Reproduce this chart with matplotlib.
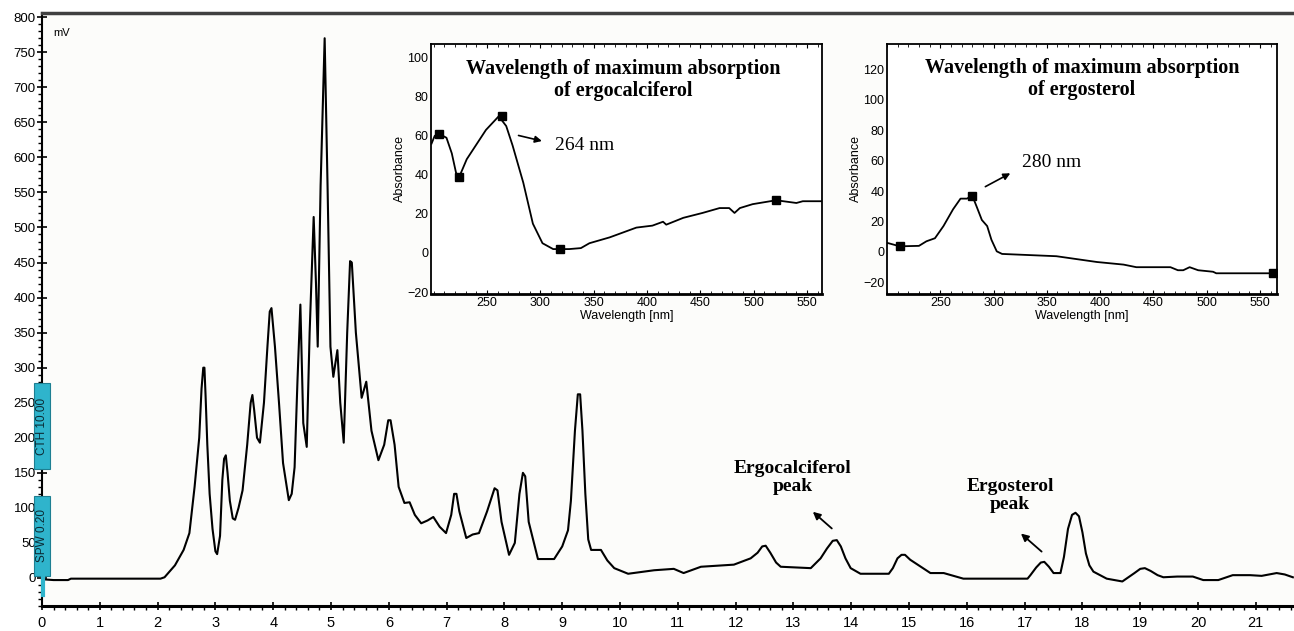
import matplotlib
matplotlib.use("Agg")
import matplotlib.pyplot as plt
from matplotlib.ticker import MultipleLocator
from matplotlib.patches import Rectangle

# ---------------- data ----------------
time_min = [0.00, 0.03, 0.20, 0.45, 0.50, 1.00, 1.50, 2.05, 2.12, 2.30, 2.45, 2.55, 2.64, 2.72,
            2.76, 2.79, 2.81, 2.83, 2.86, 2.90, 2.95, 3.00, 3.03, 3.08, 3.12, 3.15, 3.18, 3.21,
            3.25, 3.30, 3.34, 3.40, 3.47, 3.55, 3.61, 3.64, 3.67, 3.72, 3.77, 3.84, 3.90, 3.94,
            3.97, 4.03, 4.10, 4.17, 4.27, 4.32, 4.37, 4.42, 4.47, 4.52, 4.58, 4.63, 4.70, 4.74,
            4.77, 4.82, 4.89, 4.94, 4.99, 5.04, 5.11, 5.16, 5.22, 5.28, 5.33, 5.36, 5.43, 5.53,
            5.61, 5.70, 5.82, 5.92, 5.99, 6.03, 6.10, 6.17, 6.27, 6.36, 6.45, 6.56, 6.67, 6.77,
            6.88, 6.99, 7.08, 7.13, 7.17, 7.22, 7.34, 7.45, 7.56, 7.70, 7.83, 7.88, 7.95, 8.08,
            8.18, 8.26, 8.32, 8.36, 8.42, 8.58, 8.86, 9.00, 9.10, 9.15, 9.22, 9.27, 9.31, 9.35,
            9.40, 9.45, 9.50, 9.67, 9.78, 9.90, 10.14, 10.59, 10.93, 11.10, 11.40, 11.97, 12.26,
            12.38, 12.46, 12.52, 12.60, 12.70, 12.78, 13.30, 13.47, 13.58, 13.68, 13.75, 13.82,
            13.90, 13.99, 14.16, 14.65, 14.72, 14.80, 14.87, 14.93, 15.02, 15.15, 15.37, 15.60,
            15.94, 17.05, 17.10, 17.20, 17.28, 17.34, 17.42, 17.50, 17.62, 17.68, 17.75, 17.82,
            17.88, 17.94, 18.00, 18.06, 18.12, 18.19, 18.42, 18.69, 18.90, 19.00, 19.08, 19.18,
            19.30, 19.40, 19.64, 19.91, 20.09, 20.35, 20.60, 20.90, 21.10, 21.36, 21.50, 21.64]
signal_mv = [2, -2, -3, -3, -1, -1, -1, -1, 1, 18, 40, 64, 130, 200,
             270, 300, 300, 260, 190, 120, 70, 38, 34, 60, 140, 170, 175, 150,
             110, 85, 83, 100, 125, 190, 250, 261, 240, 200, 193, 250, 330, 380,
             385, 330, 250, 164, 111, 120, 158, 282, 390, 221, 187, 350, 515, 420,
             330, 560, 770, 560, 330, 287, 325, 250, 193, 350, 452, 450, 350, 257,
             280, 210, 168, 190, 225, 225, 190, 130, 107, 108, 90, 78, 82, 87,
             73, 64, 90, 120, 120, 95, 57, 62, 64, 95, 128, 125, 80, 33,
             50, 120, 150, 145, 80, 27, 27, 45, 68, 110, 210, 262, 262, 210,
             120, 55, 40, 40, 25, 14, 6, 11, 13, 7, 16, 19, 28,
             36, 45, 46, 36, 22, 16, 14, 28, 42, 53, 54, 45,
             28, 14, 6, 6, 14, 28, 33, 33, 26, 19, 7, 7,
             -1, -1, 4, 15, 22, 23, 16, 7, 7, 30, 70, 90,
             93, 88, 65, 35, 18, 9, -1, -5, 7, 13, 14, 10,
             4, 1, 2, 2, -3, -3, 4, 4, 3, 7, 5, 1]

ergocal_nm = [198, 201, 205, 212, 217, 221, 224, 231, 237, 249, 261, 268, 274, 284, 293, 302,
              312, 327, 338, 346, 365, 390, 405, 415, 418, 434, 452, 468, 477, 482, 487, 499,
              521, 540, 546, 564]
ergocal_abs = [56, 60, 61, 59, 51, 41, 39, 48, 53, 63, 70, 65, 55, 36, 15, 5,
               2, 2, 2.5, 5, 8, 13, 14, 16, 14.5, 18, 20.5, 23, 23, 20.5, 23, 25,
               27, 25.6, 26.5, 26.5]
ergocal_mark_nm = [205, 224, 264, 318, 521]
ergocal_mark_abs = [61, 39, 70, 2, 27]

ergost_nm = [200, 212, 230, 237, 245, 253, 262, 269, 275, 280, 284, 289, 294, 298, 303, 308,
             325, 359, 381, 397, 422, 434, 466, 473, 478, 484, 492, 506, 509, 566]
ergost_abs = [6, 3.7, 4, 7, 9, 17, 28, 35, 35, 37, 30, 21, 17, 8, 0.4, -1.3,
              -1.8, -2.8, -5, -6.6, -8.3, -10, -10, -12, -12, -10, -12, -13, -14, -14]
ergost_mark_nm = [212, 280, 562]
ergost_mark_abs = [3.7, 37, -14]

x_major_ticks = list(range(0, 22))
y_major_ticks = list(range(0, 801, 50))

# ---------------- figure ----------------
W, H = 1294, 631
fig = plt.figure(figsize=(W / 100, H / 100), dpi=100)
fig.patch.set_facecolor("white")

sans = ["Liberation Sans", "DejaVu Sans"]
serif = ["Liberation Serif", "DejaVu Serif"]

def fb(l, t, r, b):
    return [l / W, 1 - b / H, (r - l) / W, (b - t) / H]

ax = fig.add_axes(fb(42, 13, 1294, 606))
ax.set_facecolor("#fcfcfa")
ax.plot(time_min, signal_mv, color="black", lw=1.5)
ax.set_xlim(0, 21.66)
ax.set_ylim(-40, 806)
ax.set_xticks(x_major_ticks)
ax.set_yticks(y_major_ticks)
ax.xaxis.set_minor_locator(MultipleLocator(0.2))
ax.yaxis.set_minor_locator(MultipleLocator(10))
ax.tick_params(axis="y", which="major", direction="inout", length=7, width=1.2, pad=1,
               labelsize=9.5)
ax.tick_params(axis="y", which="minor", direction="out", length=3, width=1)
ax.tick_params(axis="x", which="major", direction="inout", length=6, width=1.2, pad=4,
               labelsize=10.5)
ax.tick_params(axis="x", which="minor", direction="out", length=3, width=1)
for lab in ax.get_xticklabels() + ax.get_yticklabels():
    lab.set_family(sans)
ax.spines["right"].set_visible(False)
ax.spines["top"].set_linewidth(2.5)
ax.spines["top"].set_color("#404040")
ax.spines["left"].set_linewidth(1.5)
ax.spines["bottom"].set_linewidth(2.2)

ax.text(0.009, 0.975, "mV", transform=ax.transAxes, fontsize=8, family=sans,
        ha="left", va="top")

# cyan parameter boxes
cyan = "#2fb4cc"
ax.add_patch(Rectangle((-0.14, 155), 0.28, 123, facecolor=cyan, edgecolor="#1d7f92",
                       lw=0.8, clip_on=False, zorder=5))
ax.add_patch(Rectangle((-0.14, 3), 0.28, 114, facecolor=cyan, edgecolor="#1d7f92",
                       lw=0.8, clip_on=False, zorder=5))
ax.plot([0.02, 0.02], [3, -24], color=cyan, lw=3, clip_on=False, zorder=5)
ax.text(0.0, 216, "CTH 10.00", rotation=90, ha="center", va="center", fontsize=8.5,
        family=sans, color="#0b2a33", zorder=6, clip_on=False)
ax.text(0.0, 60, "SPW 0.20", rotation=90, ha="center", va="center", fontsize=8.5,
        family=sans, color="#0b2a33", zorder=6, clip_on=False)

# peak annotations
ax.text(12.99, 143, "Ergocalciferol\npeak", ha="center", va="center", fontsize=14,
        family=serif, fontweight="bold", linespacing=1.05)
ax.annotate("", xy=(13.30, 97), xytext=(13.70, 68),
            arrowprops=dict(arrowstyle="-|>", color="black", lw=1.3, mutation_scale=11))
ax.text(16.75, 118, "Ergosterol\npeak", ha="center", va="center", fontsize=14,
        family=serif, fontweight="bold", linespacing=1.05)
ax.annotate("", xy=(16.90, 66), xytext=(17.33, 35),
            arrowprops=dict(arrowstyle="-|>", color="black", lw=1.3, mutation_scale=11))

# ---------------- insets ----------------
def style_inset(a, xlim, ylim, yticks):
    a.set_facecolor("white")
    a.set_xlim(*xlim)
    a.set_ylim(*ylim)
    a.set_xticks([250, 300, 350, 400, 450, 500, 550])
    a.set_yticks(yticks)
    a.xaxis.set_minor_locator(MultipleLocator(10))
    a.tick_params(axis="both", which="major", labelsize=9, pad=2, length=3,
                  top=True, direction="in")
    a.tick_params(axis="x", which="minor", top=True, bottom=True, direction="in", length=2)
    a.tick_params(axis="y", which="major", left=False)
    for lab in a.get_xticklabels() + a.get_yticklabels():
        lab.set_family(sans)
    for s in a.spines.values():
        s.set_linewidth(1.3)
    a.spines["bottom"].set_linewidth(2.0)
    a.set_xlabel("Wavelength [nm]", fontsize=9, family=sans, labelpad=1)
    a.set_ylabel("Absorbance", fontsize=9, family=sans, labelpad=1)

ax1 = fig.add_axes(fb(431, 44, 822, 294))
ax1.plot(ergocal_nm, ergocal_abs, color="black", lw=1.3)
ax1.plot(ergocal_mark_nm, ergocal_mark_abs, ls="none", marker="s", ms=6, color="black")
style_inset(ax1, (197.5, 564), (-21, 107), [-20, 0, 20, 40, 60, 80, 100])
ax1.text(377.5, 88.5, "Wavelength of maximum absorption\nof ergocalciferol", ha="center",
         va="center", fontsize=14.5, family=serif, fontweight="bold", linespacing=1.12)
ax1.annotate("", xy=(304, 57), xytext=(277, 60.5),
             arrowprops=dict(arrowstyle="-|>", color="black", lw=1.2, mutation_scale=10))
ax1.text(314, 55, "264 nm", ha="left", va="center", fontsize=14, family=serif)

ax2 = fig.add_axes(fb(887, 44, 1277, 294))
ax2.plot(ergost_nm, ergost_abs, color="black", lw=1.3)
ax2.plot(ergost_mark_nm, ergost_mark_abs, ls="none", marker="s", ms=6, color="black")
style_inset(ax2, (200, 566), (-27.6, 136.5), [-20, 0, 20, 40, 60, 80, 100, 120])
ax2.text(383, 113.5, "Wavelength of maximum absorption\nof ergosterol", ha="center",
         va="center", fontsize=14.5, family=serif, fontweight="bold", linespacing=1.12)
ax2.annotate("", xy=(318, 52.5), xytext=(290, 42),
             arrowprops=dict(arrowstyle="-|>", color="black", lw=1.2, mutation_scale=10))
ax2.text(327, 59, "280 nm", ha="left", va="center", fontsize=14, family=serif)

fig.savefig("out.png", dpi=100)
